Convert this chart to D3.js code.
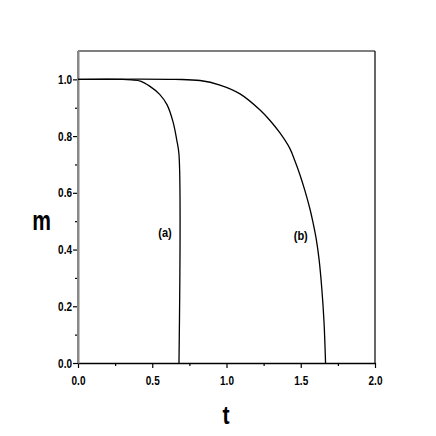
<!DOCTYPE html>
<html><head><meta charset="utf-8">
<script src="https://cdn.jsdelivr.net/npm/d3@7"></script>
<style>
html,body{margin:0;padding:0;background:#fff;}
text{font-family:"Liberation Sans",Arial,sans-serif;font-weight:bold;fill:#000;}
</style></head>
<body><svg id="c" width="436" height="436"></svg>
<script>
// Curve (a)
const tA = [0, 0.30, 0.36, 0.42, 0.48, 0.55, 0.60, 0.64, 0.665, 0.68, 0.68];
const mA = [1, 1, 0.998, 0.994, 0.977, 0.947, 0.91, 0.85, 0.786, 0.735, 0];
// Curve (b)
const tB = [0, 0.653, 0.822, 0.956, 1.091, 1.226, 1.293, 1.360, 1.428, 1.461, 1.495, 1.529, 1.562, 1.582, 1.603, 1.623, 1.643, 1.657, 1.667];
const mB = [1, 1, 0.996, 0.980, 0.949, 0.892, 0.855, 0.811, 0.755, 0.712, 0.663, 0.606, 0.543, 0.497, 0.441, 0.367, 0.254, 0.141, 0];
const xTicks = [0, 0.5, 1.0, 1.5, 2.0];
const yTicks = [0, 0.2, 0.4, 0.6, 0.8, 1.0];
const xMinor = [0.25, 0.75, 1.25, 1.75];
const yMinor = [0.1, 0.3, 0.5, 0.7, 0.9];
const curveLabels = [{text:"(a)", t:0.586, m:0.46}, {text:"(b)", t:1.50, m:0.45}];

const svg = d3.select("#c");
const L = 78, R = 375, T = 51, B = 363;
const x = d3.scaleLinear().domain([0, 2.0]).range([L, R]);
const y = d3.scaleLinear().domain([0, 1.1]).range([B, T]);
const SX = 0.8;

svg.append("line").attr("x1", L).attr("x2", R).attr("y1", T).attr("y2", T).attr("stroke", "#000").attr("stroke-width", 1.2);
svg.append("line").attr("x1", R).attr("x2", R).attr("y1", T).attr("y2", B).attr("stroke", "#000").attr("stroke-width", 1.2);

// x axis
const gx = svg.append("g").attr("transform", `translate(0,${B})`)
  .call(d3.axisBottom(x).tickValues(xTicks).tickFormat(d3.format(".1f")).tickSize(5).tickSizeOuter(0).tickPadding(8));
gx.select(".domain").attr("stroke", "#000").attr("stroke-width", 1.4);
gx.selectAll(".tick line").attr("stroke", "#000").attr("stroke-width", 1.2);
gx.selectAll(".tick text").attr("font-size", 12.5).attr("fill", "#000")
  .style("font-family", '"Liberation Sans",Arial,sans-serif').style("font-weight", "bold")
  .attr("transform", `scale(${SX},1)`);
svg.append("g").attr("transform", `translate(0,${B})`)
  .call(d3.axisBottom(x).tickValues(xMinor).tickFormat("").tickSize(3).tickSizeOuter(0))
  .call(g => g.select(".domain").remove())
  .selectAll(".tick line").attr("stroke", "#000").attr("stroke-width", 1.2);

// y axis
const gy = svg.append("g").attr("transform", `translate(${L},0)`)
  .call(d3.axisLeft(y).tickValues(yTicks).tickFormat(d3.format(".1f")).tickSize(5).tickSizeOuter(0).tickPadding(1));
gy.select(".domain").attr("stroke", "#888").attr("stroke-width", 2);
gy.selectAll(".tick line").attr("stroke", "#000").attr("stroke-width", 1.2);
gy.selectAll(".tick text").attr("font-size", 12.5).attr("fill", "#000")
  .style("font-family", '"Liberation Sans",Arial,sans-serif').style("font-weight", "bold")
  .attr("x", -6 / SX).attr("transform", `scale(${SX},1)`);
svg.append("g").attr("transform", `translate(${L},0)`)
  .call(d3.axisLeft(y).tickValues(yMinor).tickFormat("").tickSize(3).tickSizeOuter(0))
  .call(g => g.select(".domain").remove())
  .selectAll(".tick line").attr("stroke", "#000").attr("stroke-width", 1.2);
svg.append("line").attr("x1", L).attr("x2", L).attr("y1", T).attr("y2", B).attr("stroke", "#888").attr("stroke-width", 2);

// curves
const line = d3.line().x(d => x(d[0])).y(d => y(d[1])).curve(d3.curveCatmullRom.alpha(0.5));
svg.append("path").datum(tA.map((t, i) => [t, mA[i]]))
  .attr("d", line).attr("fill", "none").attr("stroke", "#000").attr("stroke-width", 1.3);
svg.append("path").datum(tB.map((t, i) => [t, mB[i]]))
  .attr("d", line).attr("fill", "none").attr("stroke", "#000").attr("stroke-width", 1.3);

// curve labels
svg.selectAll(".cl").data(curveLabels).enter().append("text")
  .attr("transform", d => `translate(${x(d.t)},${y(d.m)}) scale(0.85,1)`)
  .attr("text-anchor", "middle").attr("dy", "0.35em").attr("font-size", 13).text(d => d.text);

// axis titles
svg.append("text").attr("transform", "translate(41.5,230) scale(0.78,1)").attr("text-anchor", "middle").attr("font-size", 27).text("m");
svg.append("text").attr("transform", "translate(226,424) scale(0.85,1)").attr("text-anchor", "middle").attr("font-size", 25).text("t");
</script></body></html>
